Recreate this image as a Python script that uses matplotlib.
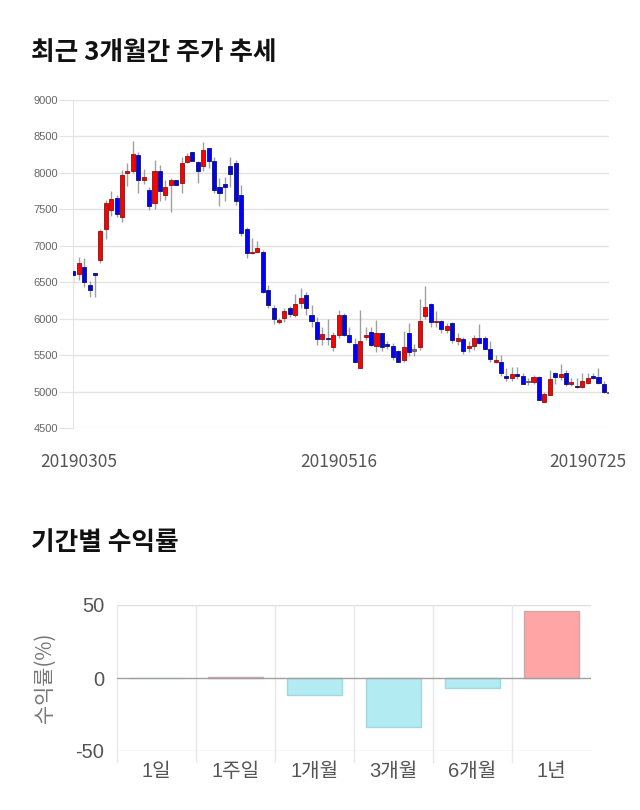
import matplotlib
matplotlib.use('Agg')
import matplotlib.pyplot as plt

plt.rcParams['font.family'] = ['Noto Sans CJK KR', 'DejaVu Sans']

# ---- candlestick data (3 months, daily) ----
opens = [6660, 6610, 6710, 6460, 6620, 6810, 7230, 7490, 7650, 7390,
         8000, 8030, 8240, 7900, 7760, 7590, 8020, 7690, 7830, 7900,
         7860, 8150, 8280, 8150, 8100, 8340, 8160, 7800, 7850, 8100,
         8130, 7700, 7230, 6900, 6920, 6920, 6400, 6140, 5960, 6010,
         6140, 6050, 6210, 6320, 6050, 5950, 5720, 5740, 5610, 5780,
         6050, 5770, 5650, 5330, 5750, 5820, 5620, 5800, 5650, 5630,
         5550, 5430, 5810, 5570, 5610, 6040, 6200, 5950, 5970, 5840,
         5940, 5700, 5720, 5600, 5620, 5740, 5730, 5590, 5400, 5400,
         5220, 5180, 5240, 5220, 5140, 5130, 5200, 4860, 4950, 5260,
         5200, 5260, 5100, 5080, 5060, 5120, 5200, 5200, 5110, 4990]
highs = [6720, 6850, 6830, 6510, 6630, 7230, 7630, 7750, 7700, 8040,
         8130, 8440, 8290, 8060, 7810, 8170, 8110, 7900, 7930, 7900,
         8220, 8270, 8280, 8160, 8420, 8340, 8220, 7930, 7950, 8220,
         8170, 7840, 7260, 7100, 7060, 6940, 6460, 6190, 6010, 6140,
         6170, 6340, 6420, 6370, 6190, 6020, 5880, 6000, 5820, 6120,
         6080, 5890, 5740, 6120, 5890, 5880, 5980, 5810, 5700, 5670,
         5570, 5830, 5940, 5650, 6270, 6450, 6220, 6110, 5980, 5940,
         5960, 5800, 5750, 5690, 5780, 5920, 5760, 5700, 5500, 5500,
         5320, 5340, 5340, 5250, 5190, 5230, 5210, 4990, 5290, 5270,
         5380, 5300, 5180, 5180, 5260, 5260, 5260, 5320, 5150, 5000]
lows = [6490, 6530, 6440, 6300, 6300, 6760, 7090, 7410, 7390, 7320,
        7820, 8000, 7720, 7850, 7490, 7500, 7610, 7630, 7470, 7830,
        7720, 8130, 8160, 7860, 8020, 8070, 7720, 7550, 7610, 7800,
        7560, 7130, 6830, 6890, 6900, 6350, 6140, 5920, 5920, 5950,
        6020, 6020, 6140, 6050, 5890, 5640, 5640, 5640, 5550, 5730,
        5760, 5660, 5400, 5320, 5710, 5620, 5540, 5550, 5580, 5430,
        5400, 5410, 5490, 5490, 5570, 5990, 5880, 5880, 5800, 5800,
        5670, 5640, 5510, 5540, 5570, 5650, 5580, 5410, 5390, 5210,
        5140, 5140, 5170, 5100, 5090, 5100, 4880, 4860, 4950, 5110,
        5160, 5070, 5070, 5050, 5050, 5110, 5170, 5110, 4980, 4980]
closes = [6600, 6760, 6500, 6400, 6600, 7200, 7590, 7640, 7430, 7970,
          8030, 8260, 7900, 7940, 7550, 8020, 7750, 7800, 7900, 7830,
          8140, 8230, 8160, 8030, 8310, 8160, 7760, 7730, 7800, 7980,
          7610, 7170, 6900, 6920, 6970, 6360, 6190, 5990, 5980, 6100,
          6070, 6200, 6280, 6140, 5970, 5720, 5790, 5720, 5780, 6050,
          5770, 5680, 5410, 5700, 5780, 5640, 5800, 5610, 5630, 5470,
          5410, 5610, 5540, 5570, 5970, 6160, 5950, 5970, 5860, 5900,
          5710, 5730, 5560, 5620, 5730, 5670, 5590, 5440, 5430, 5250,
          5180, 5240, 5220, 5110, 5140, 5200, 4890, 4970, 5170, 5200,
          5240, 5110, 5130, 5060, 5150, 5180, 5190, 5120, 4990, 4990]
date_labels = ['20190305', '20190516', '20190725']
date_label_idx = [1, 49, 95]
price_ticks = [4500, 5000, 5500, 6000, 6500, 7000, 7500, 8000, 8500, 9000]

# ---- period returns ----
periods = ['1일', '1주일', '1개월', '3개월', '6개월', '1년']
returns = [0.0, 0.6, -11.6, -33.8, -6.9, 45.9]

W, H = 640, 810
fig = plt.figure(figsize=(W / 100, H / 100), dpi=100)


def rect(x0, y0, x1, y1):
    return [x0 / W, 1 - y1 / H, (x1 - x0) / W, (y1 - y0) / H]


# ================= candlestick chart =================
ax1 = fig.add_axes(rect(73.3, 100, 609.3, 428))
xs = list(range(len(opens)))
ax1.vlines(xs, lows, highs, color='#a0a0a0', lw=1, zorder=2)
for i, (o, c) in enumerate(zip(opens, closes)):
    if c > o:
        fc, ec = '#ff0000', '#8a1010'
    elif c < o:
        fc, ec = '#0000ff', '#10106a'
    else:
        fc, ec = '#777777', '#555555'
    h = max(abs(c - o), 16)
    ax1.bar(i, h, bottom=min(o, c) if abs(c - o) >= 16 else o - 8,
            width=0.75, color=fc, edgecolor=ec, lw=0.6, zorder=3)
ax1.set_xlim(0, len(opens) - 1)
ax1.set_ylim(4500, 9000)
ax1.set_yticks(price_ticks)
ax1.set_yticklabels([str(t) for t in price_ticks], family=['Liberation Sans', 'DejaVu Sans'])
ax1.grid(axis='y', color='#e3e3e3', lw=1, zorder=0)
for s in ['top', 'right', 'bottom']:
    ax1.spines[s].set_visible(False)
ax1.spines['left'].set_color('#e3e3e3')
ax1.tick_params(axis='y', length=10, color='#e3e3e3', labelsize=8, labelcolor='#666666', pad=1)
ax1.set_xticks(date_label_idx)
ax1.set_xticklabels(date_labels)
ax1.tick_params(axis='x', length=0, labelsize=12.5, labelcolor='#555555', pad=18)

# ================= returns bar chart =================
ax2 = fig.add_axes(rect(117, 605, 591, 751))
cols = ['#ffa5a5' if r > 0 else '#b2ebf2' for r in returns]
ecs = ['#cfa9a9' if r > 0 else '#a4d6dd' for r in returns]
xp = list(range(len(periods)))
ax2.bar(xp, returns, width=0.69, color=cols, edgecolor=ecs, lw=1, zorder=3)
ax2.set_xlim(-0.5, len(periods) - 0.5)
ax2.set_ylim(-50, 50)
for s in ax2.spines.values():
    s.set_visible(False)
for yv in (50, -50):
    ax2.axhline(yv, color='#dddddd', lw=1, zorder=1)
ax2.axhline(0, color='#a0a0a0', lw=1, zorder=4)
for k in range(len(periods)):
    ax2.axvline(k - 0.5, ymin=-0.075, ymax=1, color='#e8e8e8', lw=1, zorder=1, clip_on=False)
ax2.set_yticks([-50, 0, 50])
ax2.set_yticklabels(['-50', '0', '50'], family=['Liberation Sans', 'DejaVu Sans'])
ax2.tick_params(axis='y', length=0, labelsize=14.5, labelcolor='#555555', pad=9)
ax2.set_xticks(xp)
ax2.set_xticklabels(periods, family=['Liberation Sans', 'Noto Sans CJK KR'])
ax2.tick_params(axis='x', length=0, labelsize=14.5, labelcolor='#555555', pad=8)
fig.text(45 / W, 1 - 678 / H, '수익률(%)', rotation=90, ha='center', va='center',
         fontsize=15, color='#777777')

# ================= titles =================
fig.text(31 / W, 1 - 52 / H, '최근 3개월간 주가 추세', fontsize=18.5, fontweight='bold',
         ha='left', va='center', color='#111111')
fig.text(31 / W, 1 - 543 / H, '기간별 수익률', fontsize=18.5, fontweight='bold',
         ha='left', va='center', color='#111111')

fig.savefig('out.png', dpi=100)
